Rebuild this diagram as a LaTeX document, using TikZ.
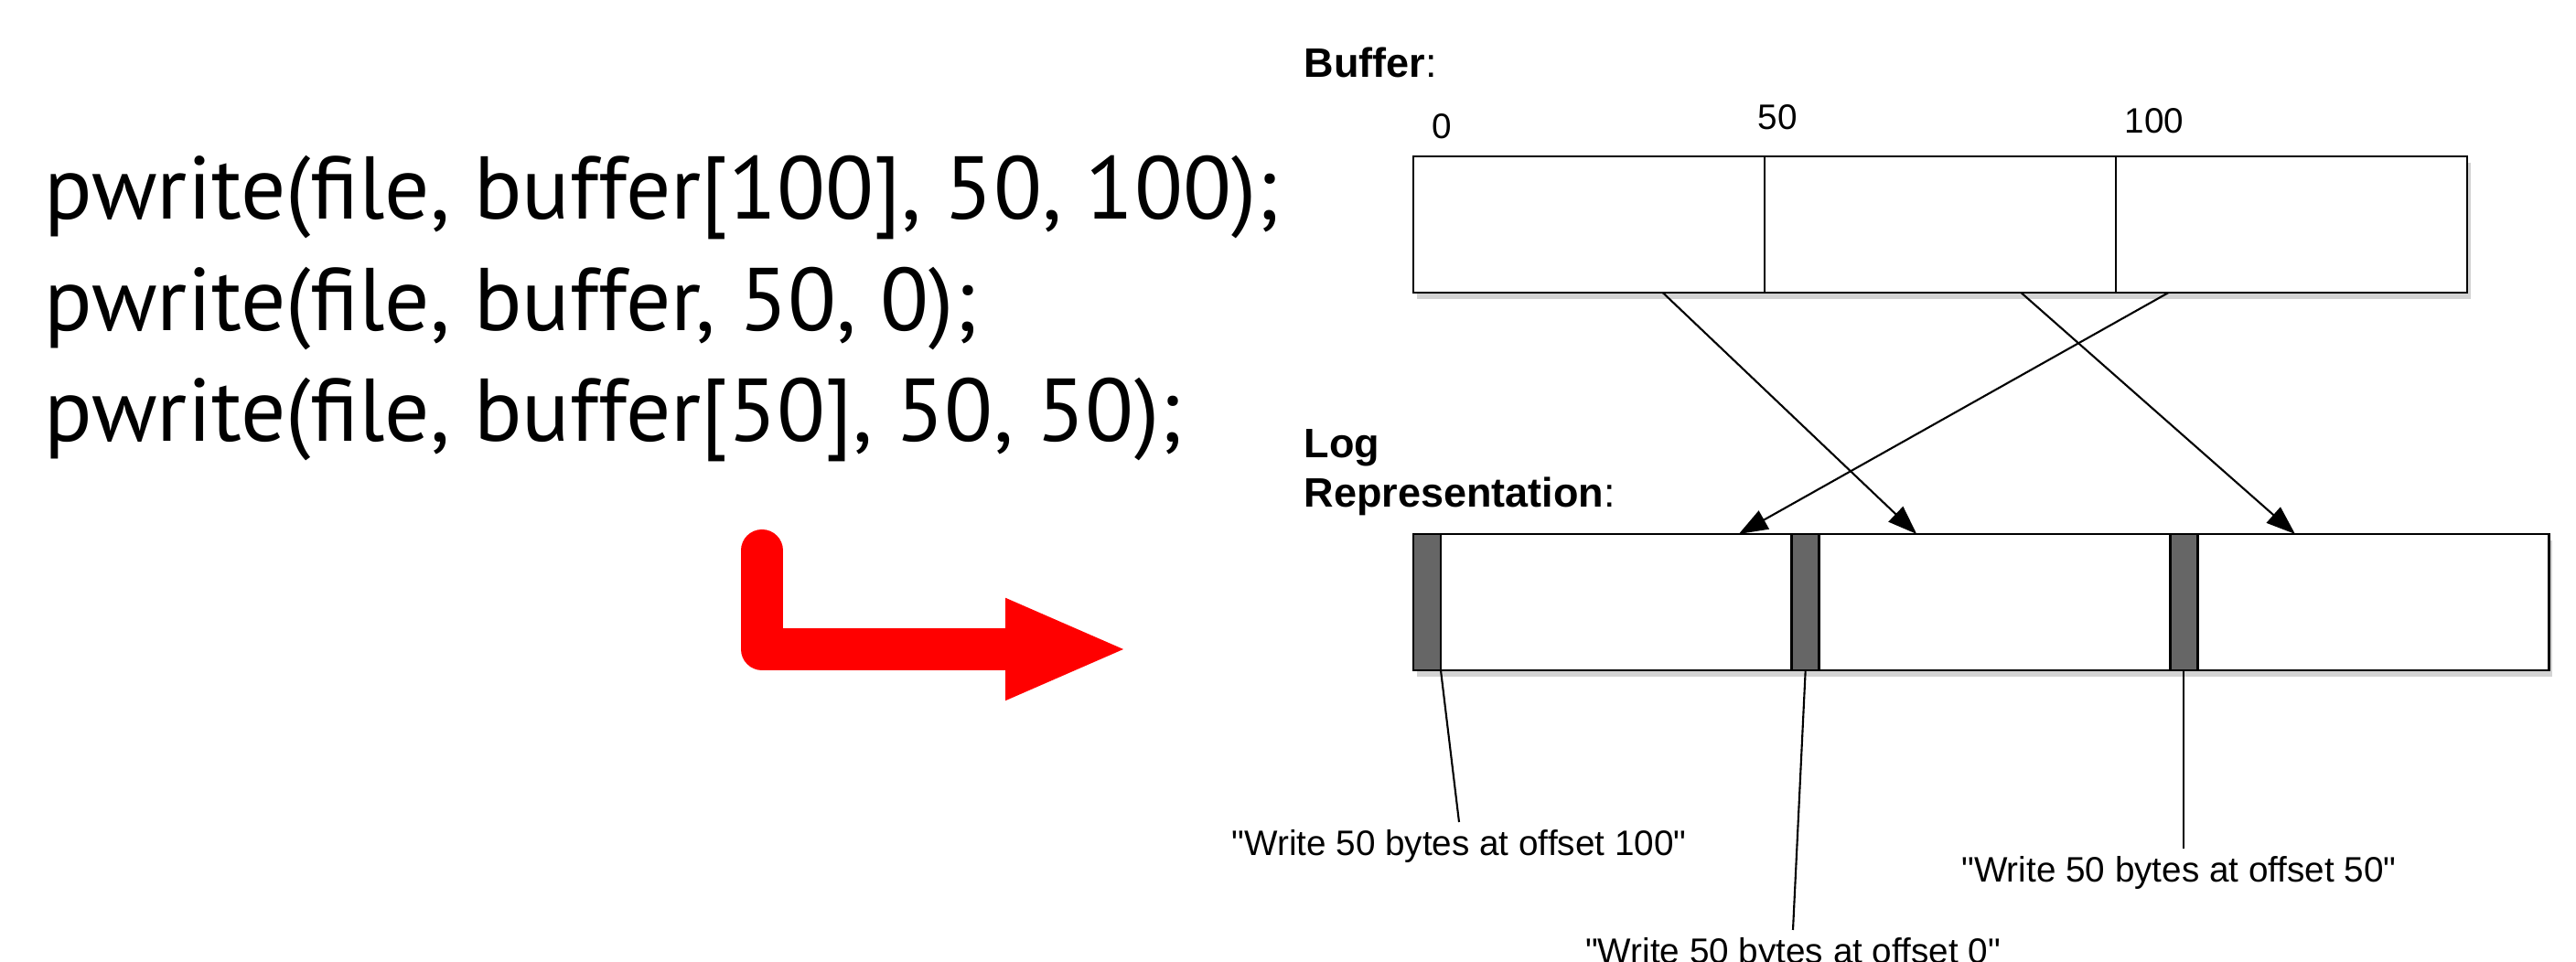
\documentclass[tikz,border=0pt]{standalone}
\usepackage{fontspec}
\setmainfont{Liberation Sans}
\newfontfamily\codefont{PT Sans}
\usetikzlibrary{arrows.meta,calc,shadows,positioning}

\tikzset{
  cell/.style={draw, line width=0.8pt, fill=white, outer sep=0pt, inner sep=0pt,
    minimum height=1.49cm,
    drop shadow={shadow xshift=0.04cm, shadow yshift=-0.07cm, opacity=0.35}},
  bufcell/.style={cell, minimum width=3.84cm},
  logcell/.style={cell, minimum width=4.137cm},
  marker/.style={draw, line width=0.8pt, fill=black!60, outer sep=0pt, inner sep=0pt,
    minimum width=0.3cm, minimum height=1.49cm},
  lbl/.style={font=\fontsize{11}{13}\selectfont, inner sep=0pt, anchor=base},
  hdr/.style={font=\fontsize{12.8}{15.6}\selectfont, inner sep=0pt, anchor=base west, align=left},
  code/.style={font=\codefont\fontsize{27.7}{34}\selectfont, inner sep=0pt, anchor=base west},
  note/.style={font=\fontsize{11}{13}\selectfont, inner sep=0.08cm, anchor=north},
  link/.style={-{Triangle[length=9pt,width=6.5pt]}, line width=0.6pt},
}
\newcommand{\qt}[1]{\textquotedbl#1\textquotedbl}

\begin{document}
\begin{tikzpicture}
\useasboundingbox (0,0) rectangle (28.16,10.52);

% the three calls
\node[code] (c1) at (0.48,8.12) {pwrite(file, buffer[100], 50, 100);};
\node[code] (c2) at (0.48,6.90) {pwrite(file, buffer, 50, 0);};
\node[code] (c3) at (0.48,5.69) {pwrite(file, buffer[50], 50, 50);};

% big red arrow
\draw[red, line width=0.46cm, line cap=round, line join=round,
  -{Triangle[length=1.35cm,width=1.01cm]}] (8.33,4.50) |- (12.34,3.42);

% buffer
\node[hdr] (buflbl) at (14.25,9.67) {\textbf{Buffer}:};
\node[bufcell, anchor=north west] (buf1) at (15.45,8.81) {};
\node[bufcell, right=0pt of buf1] (buf2) {};
\node[bufcell, right=0pt of buf2] (buf3) {};
\node[lbl] (n0) at (15.76,9.00) {0};
\node[lbl] (n50) at (19.43,9.10) {50};
\node[lbl] (n100) at (23.55,9.06) {100};

% log
\node[hdr] (loglbl) at (14.25,4.97) {\textbf{Log}\\\textbf{Representation}:};
\node[logcell, anchor=north west] (log1) at (15.45,4.68) {};
\node[logcell, right=0pt of log1] (log2) {};
\node[logcell, right=0pt of log2] (log3) {};
\node[marker, anchor=west] (m1) at (log1.west) {};
\node[marker, anchor=west] (m2) at (log2.west) {};
\node[marker, anchor=west] (m3) at (log3.west) {};

% where each piece goes
\coordinate (s1) at ($(buf1.south west)!0.71!(buf1.south east)$);
\coordinate (s2) at ($(buf2.south west)!0.73!(buf2.south east)$);
\coordinate (s3) at ($(buf3.south west)!0.15!(buf3.south east)$);
\coordinate (t1) at ($(log1.north west)!0.86!(log1.north east)$);
\coordinate (t2) at ($(log2.north west)!0.33!(log2.north east)$);
\coordinate (t3) at ($(log3.north west)!0.33!(log3.north east)$);
\draw[link] (s1) -- (t2);
\draw[link] (s2) -- (t3);
\draw[link] (s3) -- (t1);

% notes
\node[note] (w100) at (15.95,1.53) {\qt{Write 50 bytes at offset 100}};
\node[note] (w0) at (19.60,0.35) {\qt{Write 50 bytes at offset 0}};
\node[note] (w50) at (23.82,1.24) {\qt{Write 50 bytes at offset 50}};
\draw[line width=0.6pt] (m1.south east) -- (w100.north);
\draw[line width=0.6pt] (m2.south) -- (w0.north);
\draw[line width=0.6pt] (m3.south) -- (m3.south |- w50.north);
\end{tikzpicture}
\end{document}
